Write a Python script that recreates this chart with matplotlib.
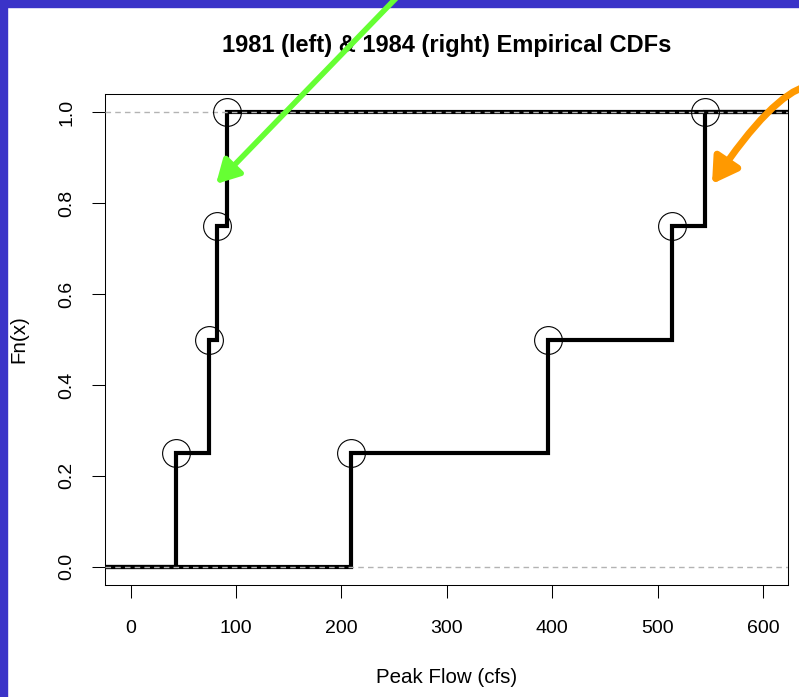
import numpy as np
import matplotlib
matplotlib.use('Agg')
import matplotlib.pyplot as plt
from matplotlib.patches import Rectangle, FancyArrowPatch
from matplotlib.path import Path

# peak flows (cfs)
flow_1981 = [43, 74, 82, 91]
flow_1984 = [209, 396, 514, 545]
x_ticks = [0, 100, 200, 300, 400, 500, 600]
y_ticks = [0.0, 0.2, 0.4, 0.6, 0.8, 1.0]
y_labels = ['0.0', '0.2', '0.4', '0.6', '0.8', '1.0']

plt.rcParams['font.family'] = ['Liberation Sans', 'DejaVu Sans']

W, H = 799, 697
fig = plt.figure(figsize=(W / 100, H / 100), dpi=100, facecolor='white')
ax = fig.add_axes([105.3 / W, 112 / H, 683 / W, 491 / H])

ax.set_xlim(-24, 624)
ax.set_ylim(-0.04, 1.04)
x0, x1 = ax.get_xlim()

for flows in (flow_1981, flow_1984):
    fn = np.arange(1, len(flows) + 1) / len(flows)
    xs = np.r_[x0, flows, x1]
    ys = np.r_[0, fn, 1]
    ax.step(xs, ys, where='post', color='black', lw=3, zorder=2,
            solid_joinstyle='miter')
    ax.plot(flows, fn, 'o', ms=20, mfc='none', mec='black', mew=0.8, zorder=4)

# reference lines at 0 and 1
for h in (0, 1):
    ax.axhline(h, color='#b3b3b3', lw=1.0, dashes=(4, 3), zorder=3)

ax.set_xticks(x_ticks)
ax.set_yticks(y_ticks)
ax.set_yticklabels(y_labels, rotation=90, va='center')
ax.tick_params(direction='out', length=9.5, width=0.75, labelsize=14)
ax.tick_params(axis='x', pad=16)
ax.tick_params(axis='y', pad=12)
for s in ax.spines.values():
    s.set_linewidth(0.75)

ax.set_title('1981 (left) & 1984 (right) Empirical CDFs', fontsize=17,
             fontweight='bold', pad=30)
ax.set_xlabel('Peak Flow (cfs)', fontsize=14.8)
ax.xaxis.set_label_coords(0.5, -0.169)
ax.set_ylabel('Fn(x)', fontsize=14.8)
ax.yaxis.set_label_coords(-0.113, 0.5)

# slide border
blue = '#3a33c8'
fig.add_artist(Rectangle((0, 0), 7 / W, 1, transform=fig.transFigure,
                         color=blue, zorder=5))
fig.add_artist(Rectangle((0, 1 - 7 / H), 1, 7 / H, transform=fig.transFigure,
                         color=blue, zorder=5))


def fpos(x, y):
    return (x / W, (H - y) / H)


green = FancyArrowPatch(fpos(402, -8), fpos(216, 184), transform=fig.transFigure,
                        arrowstyle='-|>,head_length=1.0,head_width=0.55',
                        mutation_scale=14, color='#66ff33', lw=4,
                        shrinkA=0, shrinkB=0, zorder=10)
fig.add_artist(green)

# curved orange pointer (quadratic bezier)
curve = Path([fpos(807, 86), fpos(772, 95), fpos(712, 184)],
             [Path.MOVETO, Path.CURVE3, Path.CURVE3])
orange = FancyArrowPatch(path=curve, transform=fig.transFigure,
                         arrowstyle='-|>,head_length=1.0,head_width=0.6',
                         mutation_scale=15, color='#ff9900', lw=5,
                         shrinkA=0, shrinkB=0, zorder=10)
fig.add_artist(orange)

fig.savefig('out.png', dpi=100)
